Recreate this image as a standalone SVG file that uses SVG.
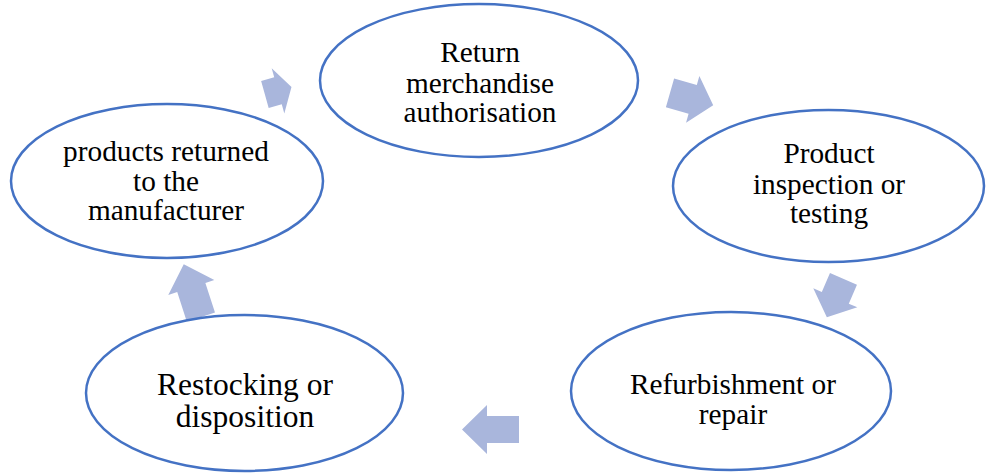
<svg xmlns="http://www.w3.org/2000/svg" width="989" height="474" viewBox="0 0 989 474">
<style>
.node{fill:#fff;stroke:#4472C4;stroke-width:2.5}
.t{font-family:"Liberation Serif","Times New Roman",serif;font-size:29.3px;fill:#000;text-anchor:middle}
.t2{font-size:31.5px}
.arr{fill:#A9B6DC}
</style>
<rect width="989" height="474" fill="#fff"/>
<g id="connectors">
<path class="arr" transform="translate(278,90.8) rotate(-15.6)" d="M-13.6,-14 L0,-14 L0,-23.5 L14,0 L0,23.5 L0,14 L-13.6,14 Z"/>
<path class="arr" transform="translate(692.7,99.4) rotate(15.9)" d="M-23.6,-15 L0,-15 L0,-24.3 L21.3,0 L0,24.3 L0,15 L-23.6,15 Z"/>
<path class="arr" transform="translate(835.3,297.8) rotate(113.4)" d="M-20.6,-14.7 L0,-14.7 L0,-24 L21.3,0 L0,24 L0,14.7 L-20.6,14.7 Z"/>
<path class="arr" transform="translate(487,429.5) rotate(180)" d="M-32,-13.5 L0,-13.5 L0,-24.5 L25,0 L0,24.5 L0,13.5 L-32,13.5 Z"/>
<path class="arr" transform="translate(191.3,287.5) rotate(-108)" d="M-31.1,-14.8 L0,-14.8 L0,-24.2 L24.4,0 L0,24.2 L0,14.8 L-31.1,14.8 Z"/>
</g>
<g id="n1">
<ellipse class="node" cx="479" cy="80.5" rx="159" ry="76.5"/>
<text class="t" x="480" y="62">Return</text>
<text class="t" x="480" y="93">merchandise</text>
<text class="t" x="480" y="122">authorisation</text>
</g>
<g id="n2">
<ellipse class="node" cx="828.5" cy="186" rx="155.5" ry="76"/>
<text class="t" x="829" y="163">Product</text>
<text class="t" x="829" y="194">inspection or</text>
<text class="t" x="829" y="223">testing</text>
</g>
<g id="n3">
<ellipse class="node" cx="731" cy="391" rx="160" ry="79"/>
<text class="t" x="733" y="394">Refurbishment or</text>
<text class="t" x="733" y="424">repair</text>
</g>
<g id="n4">
<ellipse class="node" cx="244.5" cy="393" rx="158.5" ry="78"/>
<text class="t t2" x="245" y="395">Restocking or</text>
<text class="t t2" x="245" y="427">disposition</text>
</g>
<g id="n5">
<ellipse class="node" cx="167" cy="181" rx="156" ry="77"/>
<text class="t" x="166" y="161">products returned</text>
<text class="t" x="166" y="191">to the</text>
<text class="t" x="166" y="220">manufacturer</text>
</g>
</svg>
